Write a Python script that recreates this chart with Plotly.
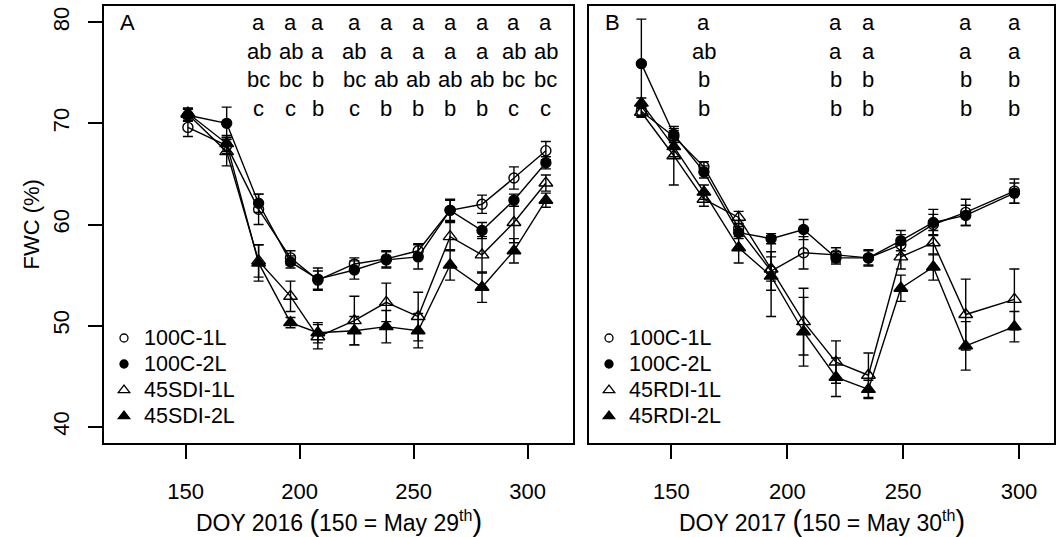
import plotly.graph_objects as go

# ---------------- data ----------------
doy16 = [151, 168, 182, 196, 208, 224, 238, 252, 266, 280, 294, 308]
a_100c1 = [69.6, 67.8, 61.5, 56.7, 54.5, 56.1, 56.6, 57.4, 61.4, 62.0, 64.6, 67.3]
a_100c1_se = [0.9, 0.8, 1.5, 0.7, 0.9, 0.6, 0.8, 0.7, 1.0, 0.9, 1.1, 0.9]
a_100c2 = [70.8, 70.0, 62.1, 56.3, 54.6, 55.5, 56.5, 56.8, 61.4, 59.4, 62.4, 66.1]
a_100c2_se = [0.6, 1.6, 0.9, 0.6, 1.1, 0.9, 0.8, 1.2, 1.1, 0.8, 0.6, 0.6]
a_45s1 = [70.9, 67.2, 56.4, 52.9, 48.9, 50.5, 52.3, 50.9, 58.8, 57.0, 60.2, 64.1]
a_45s1_se = [0.6, 1.4, 1.6, 1.5, 1.2, 2.4, 1.9, 2.4, 1.4, 1.8, 2.0, 0.8]
a_45s2 = [71.0, 68.0, 56.2, 50.3, 49.3, 49.5, 49.9, 49.5, 56.0, 53.8, 57.4, 62.4]
a_45s2_se = [0.5, 0.8, 1.8, 0.5, 1.0, 1.4, 1.6, 1.7, 1.5, 1.5, 1.2, 0.7]

doy17 = [137, 151, 164, 179, 193, 207, 221, 235, 249, 263, 277, 298]
b_100c1 = [71.2, 68.7, 65.7, 59.6, 55.4, 57.2, 57.0, 56.7, 58.0, 60.0, 61.2, 63.3]
b_100c1_se = [0.5, 0.6, 0.5, 0.8, 1.9, 1.6, 0.7, 0.7, 1.0, 1.0, 1.3, 1.2]
b_100c2 = [75.9, 68.9, 65.2, 59.2, 58.6, 59.5, 56.7, 56.7, 58.4, 60.2, 60.9, 63.1]
b_100c2_se = [4.4, 0.6, 0.6, 0.6, 0.5, 1.0, 0.6, 0.8, 1.0, 1.3, 1.0, 1.0]
b_45r1 = [71.1, 66.8, 62.5, 60.7, 55.6, 50.4, 46.4, 45.1, 56.8, 58.2, 51.1, 52.6]
b_45r1_se = [0.5, 2.9, 0.7, 0.6, 1.2, 3.3, 2.1, 2.2, 1.2, 1.2, 3.5, 3.0]
b_45r2 = [72.0, 67.7, 63.2, 57.7, 54.9, 49.4, 44.9, 43.7, 53.7, 55.8, 48.0, 49.9]
b_45r2_se = [0.5, 1.0, 0.7, 1.5, 4.0, 3.4, 1.9, 0.9, 1.3, 1.3, 2.4, 1.5]

# significance letters
let16_doy = [182, 196, 208, 224, 238, 252, 266, 280, 294, 308]
let16_rows = [
    ["a", "a", "a", "a", "a", "a", "a", "a", "a", "a"],
    ["ab", "ab", "a", "ab", "a", "a", "a", "a", "ab", "ab"],
    ["bc", "bc", "b", "bc", "ab", "ab", "ab", "ab", "bc", "bc"],
    ["c", "c", "b", "c", "b", "b", "b", "b", "c", "c"],
]
let17_doy = [164, 221, 235, 277, 298]
let17_rows = [
    ["a", "a", "a", "a", "a"],
    ["ab", "a", "a", "a", "a"],
    ["b", "b", "b", "b", "b"],
    ["b", "b", "b", "b", "b"],
]
letter_y = [80.0, 77.15, 74.3, 71.45]

names16 = ["100C-1L", "100C-2L", "45SDI-1L", "45SDI-2L"]
names17 = ["100C-1L", "100C-2L", "45RDI-1L", "45RDI-2L"]
symbols = ["circle-open", "circle", "triangle-up-open", "triangle-up"]
sizes = [10, 10, 12, 12]
leg_sizes = [8, 8, 10, 10]

FONT = "Liberation Sans, Arial, sans-serif"

fig = go.Figure()


def add_series(x, ys, ses, xa, ya):
    for y, se, sym, sz in zip(ys, ses, symbols, sizes):
        fig.add_trace(go.Scatter(
            x=x, y=y, mode="lines+markers", xaxis=xa, yaxis=ya,
            line=dict(color="black", width=1.4),
            marker=dict(symbol=sym, size=sz, color="black",
                        line=dict(color="black", width=1.4)),
            error_y=dict(type="data", array=se, visible=True, color="black",
                         thickness=1.4, width=5),
            showlegend=False, hoverinfo="skip"))


add_series(doy16, [a_100c1, a_100c2, a_45s1, a_45s2],
           [a_100c1_se, a_100c2_se, a_45s1_se, a_45s2_se], "x", "y")
add_series(doy17, [b_100c1, b_100c2, b_45r1, b_45r2],
           [b_100c1_se, b_100c2_se, b_45r1_se, b_45r2_se], "x2", "y2")

# legend-only traces
for names, leg, xa, ya in [(names16, "legend", "x", "y"), (names17, "legend2", "x2", "y2")]:
    for nm, sym, sz in zip(names, symbols, leg_sizes):
        fig.add_trace(go.Scatter(
            x=[None], y=[None], mode="markers", xaxis=xa, yaxis=ya,
            name='<span style="font-size:21.5px">' + nm + '</span>',
            marker=dict(symbol=sym, size=sz, color="black",
                        line=dict(color="black", width=1.3)),
            legend=leg, showlegend=True))

annotations = []
for doys, rows, xr, yr in [(let16_doy, let16_rows, "x", "y"), (let17_doy, let17_rows, "x2", "y2")]:
    for r, row in enumerate(rows):
        for d, txt in zip(doys, row):
            annotations.append(dict(x=d, y=letter_y[r], xref=xr, yref=yr, text=txt,
                                    showarrow=False, xanchor="center", yanchor="middle",
                                    font=dict(family=FONT, size=22, color="black")))


def xtitle(year, day):
    big = '<span style="font-size:29px">%s</span>'
    return ("DOY " + year + " " + big % "(" + "150 = May " + day + "<sup>th</sup>" + big % ")")


annotations += [
    dict(x=0.051, y=0.963, xref="x domain", yref="y domain", text="A", showarrow=False,
         xanchor="center", yanchor="middle", font=dict(family=FONT, size=22, color="black")),
    dict(x=0.051, y=0.963, xref="x2 domain", yref="y2 domain", text="B", showarrow=False,
         xanchor="center", yanchor="middle", font=dict(family=FONT, size=22, color="black")),
    dict(x=0.5, y=-0.178, xref="x domain", yref="y domain",
         text=xtitle("2016", "29"), showarrow=False,
         xanchor="center", yanchor="middle", font=dict(family=FONT, size=23, color="black")),
    dict(x=0.5, y=-0.178, xref="x2 domain", yref="y2 domain",
         text=xtitle("2017", "30"), showarrow=False,
         xanchor="center", yanchor="middle", font=dict(family=FONT, size=23, color="black")),
    dict(x=31 / 1058, y=0.5, xref="paper", yref="y domain", text="FWC (%)", textangle=-90,
         showarrow=False, xanchor="center", yanchor="middle",
         font=dict(family=FONT, size=22, color="black")),
]

ydom = [94 / 537, 531 / 537]
axis_common = dict(showline=True, linecolor="black", linewidth=1.5, mirror=True,
                   showgrid=False, zeroline=False, ticks="outside", ticklen=14,
                   tickwidth=1.5, tickcolor="black",
                   tickfont=dict(family=FONT, size=22, color="black"))

fig.update_layout(
    width=1058, height=537,
    margin=dict(l=0, r=0, t=0, b=0),
    paper_bgcolor="white", plot_bgcolor="white",
    font=dict(family=FONT, color="black"),
    xaxis=dict(domain=[104 / 1058, 573 / 1058], range=[114.2, 319.9],
               tickvals=[150, 200, 250, 300], anchor="y", ticklabelstandoff=14, **axis_common),
    yaxis=dict(domain=ydom, range=[38.4, 81.6], tickvals=[40, 50, 60, 70, 80],
               tickangle=-90, anchor="x", ticklabelstandoff=10, **axis_common),
    xaxis2=dict(domain=[589 / 1058, 1054 / 1058], range=[114.4, 315.1],
                tickvals=[150, 200, 250, 300], anchor="y2", ticklabelstandoff=14, **axis_common),
    yaxis2=dict(domain=ydom, range=[38.4, 81.6], anchor="x2", showline=True,
                linecolor="black", linewidth=1.5, mirror=True, showgrid=False,
                zeroline=False, ticks="", showticklabels=False),
    legend=dict(x=104 / 1058, y=(537 - 320) / 537, xanchor="left", yanchor="top",
                bgcolor="rgba(0,0,0,0)", font=dict(family=FONT, size=17.7, color="black"),
                tracegroupgap=0),
    legend2=dict(x=589 / 1058, y=(537 - 320) / 537, xanchor="left", yanchor="top",
                 bgcolor="rgba(0,0,0,0)", font=dict(family=FONT, size=17.7, color="black"),
                 tracegroupgap=0),
    annotations=annotations,
)

fig.write_html("out.html")
